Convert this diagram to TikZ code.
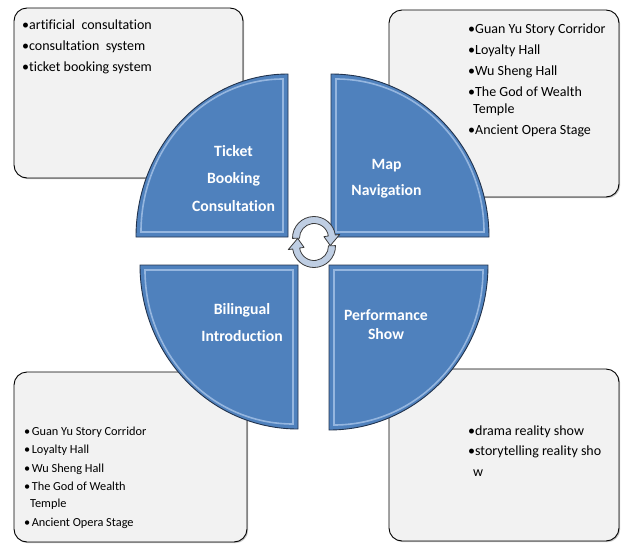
\documentclass[tikz,border=0pt]{standalone}
\usepackage{fontspec}
\setmainfont{Carlito}[Ligatures=NoCommon]
\usetikzlibrary{calc,shadows}
\definecolor{qblue}{HTML}{4F81BD}
\definecolor{qedge}{HTML}{22334D}
\definecolor{qlight}{HTML}{B4CDEE}
\definecolor{boxfill}{HTML}{F2F2F2}
\definecolor{cycfill}{HTML}{BFCEE3}
\definecolor{cycedge}{HTML}{3A3A3A}
\tikzset{
  quad/.style={fill=qblue, draw=qedge, line width=0.9pt},
  bevel/.style={draw=qlight, line width=1.6pt, opacity=0.7},
  infobox/.style={draw=black, line width=0.9pt, fill=boxfill, rounded corners=13pt,
    drop shadow={shadow xshift=1.2pt, shadow yshift=-1.2pt, opacity=0.45}},
  qtext/.style={text=white, align=center, inner sep=0pt},
  btext/.style={anchor=north west, align=left, inner sep=0pt},
  cyc/.style={fill=cycfill, draw=cycedge, line width=0.8pt, line join=round}
}
\begin{document}
\begin{tikzpicture}[x=1pt,y=-1pt]
\useasboundingbox (0,0) rectangle (622,544);
% boxes
\node[infobox, minimum width=229pt, minimum height=170pt] (b1) at (128.5,93) {};
\node[infobox, minimum width=230pt, minimum height=187pt] (b2) at (504,103.5) {};
\node[infobox, minimum width=233pt, minimum height=170pt] (b3) at (130.5,457) {};
\node[infobox, minimum width=230pt, minimum height=172pt] (b4) at (504,455) {};
% box texts
\node[btext, font=\fontsize{14}{21}\selectfont] (t1) at (22,19.5)
  {\textbullet artificial\ \ consultation\\ \textbullet consultation\ \ system\\ \textbullet ticket booking system};
\node[btext, font=\fontsize{14}{21}\selectfont] (t2) at (468,23.5)
  {\textbullet Guan Yu Story Corridor\\ \textbullet Loyalty Hall\\ \textbullet Wu Sheng Hall\\ \textbullet The God of Wealth\\[-4pt] \hspace*{5pt}Temple\\ \textbullet Ancient Opera Stage};
\node[btext, font=\fontsize{12.3}{18.5}\selectfont] (t3) at (24,426.5)
  {\textbullet\hspace{1.5pt}Guan Yu Story Corridor\\ \textbullet\hspace{1.5pt}Loyalty Hall\\ \textbullet\hspace{1.5pt}Wu Sheng Hall\\ \textbullet\hspace{1.5pt}The God of Wealth\\[-1.5pt] \hspace*{6pt}Temple\\ \textbullet\hspace{1.5pt}Ancient Opera Stage};
\node[btext, font=\fontsize{14}{20.5}\selectfont] (t4) at (468,425.5)
  {\textbullet drama reality show\\ \textbullet storytelling reality sho\\ \hspace*{5pt}w};
% quadrants
\draw[quad] (288,237) -- (136,237) .. controls (136,146.97) and (204.05,74) .. (288,74) -- cycle;
\draw[bevel] (283,232) -- (141,232) .. controls (141,147.5) and (204.6,79) .. (283,79) -- cycle;
\draw[quad] (331,237) -- (331,74) .. controls (418.26,74) and (489,146.98) .. (489,237) -- cycle;
\draw[bevel] (336,232) -- (336,79) .. controls (417.7,79) and (484,147.5) .. (484,232) -- cycle;
\draw[quad] (298,265) -- (140,265) .. controls (140,355.58) and (210.74,429) .. (298,429) -- cycle;
\draw[bevel] (293,270) -- (145,270) .. controls (145,355.05) and (211.26,424) .. (293,424) -- cycle;
\draw[quad] (329,265) -- (488,265) .. controls (488,356.13) and (416.82,430) .. (329,430) -- cycle;
\draw[bevel] (334,270) -- (483,270) .. controls (483,355.6) and (416.3,425) .. (334,425) -- cycle;
% quadrant texts
\node[qtext, font=\fontsize{15.7}{27.5}\selectfont\bfseries] (q1) at (233.5,178.5) {Ticket\\Booking\\Consultation};
\node[qtext, font=\fontsize{15.7}{26}\selectfont\bfseries] (q2) at (386.5,179) {Map\\Navigation};
\node[qtext, font=\fontsize{15.7}{27}\selectfont\bfseries] (q3) at (242,322.5) {Bilingual\\Introduction};
\node[qtext, font=\fontsize{15.7}{19.5}\selectfont\bfseries] (q4) at (386,324.5) {Performance\\Show};
% cycle arrows
\coordinate (o1) at (314,238);
\coordinate (o2) at (314,246);
\draw[cyc] ($(o1)+(-181:21.5)$) arc[start angle=-181, end angle=-8, radius=21.5]
  -- ($(o1)+(-8:26)$) -- ($(o1)+(25:18)$) -- ($(o1)+(-8:10)$) -- ($(o1)+(-8:14.5)$)
  arc[start angle=-8, end angle=-181, radius=14.5] -- cycle;
\draw[cyc] ($(o2)+(-1:21.5)$) arc[start angle=-1, end angle=172, radius=21.5]
  -- ($(o2)+(172:26)$) -- ($(o2)+(205:18)$) -- ($(o2)+(172:10)$) -- ($(o2)+(172:14.5)$)
  arc[start angle=172, end angle=-1, radius=14.5] -- cycle;
\end{tikzpicture}
\end{document}
